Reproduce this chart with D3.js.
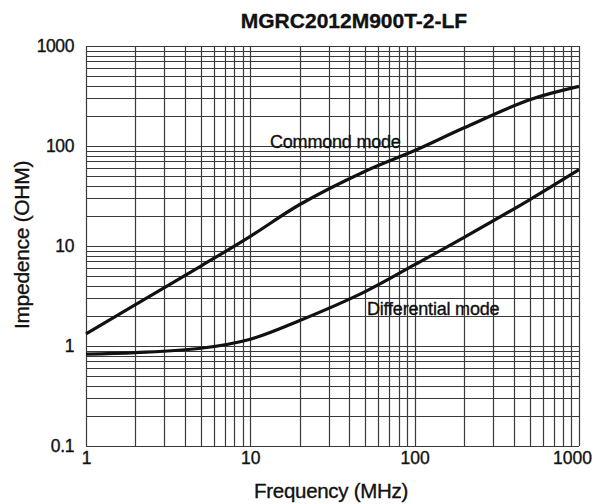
<!DOCTYPE html>
<html><head><meta charset="utf-8">
<script src="https://cdn.jsdelivr.net/npm/d3@7"></script>
<style>body{margin:0;background:#fff}svg{display:block}</style>
</head><body>
<svg id="c" width="602" height="504"></svg>
<script>
// Data
const title = "MGRC2012M900T-2-LF";
const freqTicks = [1, 10, 100, 1000];
const impTicks = [0.1, 1, 10, 100, 1000];
const commonFreq = [1, 2, 5, 10, 20, 50, 100, 200, 500, 1000];
const commonZ    = [1.32, 2.6, 6.3, 12.5, 26, 56, 90, 152, 290, 395];
const diffFreq   = [1, 2, 5, 10, 20, 50, 100, 200, 500, 1000];
const diffZ      = [0.83, 0.86, 0.95, 1.17, 1.8, 3.5, 6.5, 12.2, 29, 58];

const svg = d3.select("#c");
const L = 86, R = 579, T = 46, B = 446;
const x = d3.scaleLog().domain([1, 1000]).range([L, R]);
const y = d3.scaleLog().domain([0.1, 1000]).range([B, T]);
const font = "'Liberation Sans', Arial, sans-serif";
const gridColor = "#3a3a3a";
const ink = "#111";

const xs = [];
for (let d = 1; d < 1000; d *= 10) for (let k = 1; k < 10; k++) xs.push(d * k);
xs.push(1000);
const ys = [];
for (let d = 0.1; d < 999; d *= 10) for (let k = 1; k < 10; k++) ys.push(+(d * k).toPrecision(3));
ys.push(1000);

const g = svg.append("g");
g.selectAll("line.v").data(xs).join("line")
  .attr("x1", d => Math.round(x(d)) + 0.5).attr("x2", d => Math.round(x(d)) + 0.5)
  .attr("y1", T).attr("y2", B)
  .attr("stroke", gridColor).attr("stroke-width", 1.2);
g.selectAll("line.h").data(ys).join("line")
  .attr("y1", d => Math.round(y(d)) + 0.5).attr("y2", d => Math.round(y(d)) + 0.5)
  .attr("x1", L).attr("x2", R)
  .attr("stroke", gridColor).attr("stroke-width", 1.2);

function ts(sel, size) {
  sel.attr("font-family", font).attr("font-size", size).attr("fill", ink)
    .attr("stroke", ink).attr("stroke-width", 0.35);
}

const xAxis = d3.axisBottom(x).tickValues(freqTicks).tickFormat(d3.format("d")).tickSize(0).tickPadding(6);
const xg = svg.append("g").attr("transform", `translate(0,${B})`).call(xAxis);
xg.select(".domain").remove();
ts(xg.selectAll("text"), 17.5);
xg.selectAll("text").attr("dx", d => d === 1000 ? -7 : 0);

const yAxis = d3.axisLeft(y).tickValues(impTicks).tickFormat(d => d < 1 ? "0.1" : d3.format("d")(d)).tickSize(0).tickPadding(12);
const yg = svg.append("g").attr("transform", `translate(${L},0)`).call(yAxis);
yg.select(".domain").remove();
ts(yg.selectAll("text"), 17.5);
yg.selectAll("text").attr("letter-spacing", "-0.4");

const line = d3.line().x(d => x(d[0])).y(d => y(d[1])).curve(d3.curveCatmullRom.alpha(0.5));
svg.append("path").datum(d3.zip(commonFreq, commonZ)).attr("d", line)
  .attr("fill", "none").attr("stroke", ink).attr("stroke-width", 3.2);
svg.append("path").datum(d3.zip(diffFreq, diffZ)).attr("d", line)
  .attr("fill", "none").attr("stroke", ink).attr("stroke-width", 3.2);

ts(svg.append("text").attr("x", 270).attr("y", 148).text("Commond mode").attr("letter-spacing", "-0.2"), 18);
ts(svg.append("text").attr("x", 367).attr("y", 315).text("Differential mode").attr("letter-spacing", "-0.2"), 18);

ts(svg.append("text").attr("x", 354).attr("y", 28).attr("text-anchor", "middle").text(title)
  .attr("font-weight", "bold").attr("stroke-width", 0.2), 21);

ts(svg.append("text").attr("x", 331).attr("y", 498).attr("text-anchor", "middle").text("Frequency (MHz)")
  .attr("letter-spacing", "-0.3"), 20.5);
ts(svg.append("text").attr("transform", "translate(29,245) rotate(-90)").attr("text-anchor", "middle")
  .text("Impedence  (OHM)").attr("letter-spacing", "-0.3"), 21);
</script>
</body></html>
